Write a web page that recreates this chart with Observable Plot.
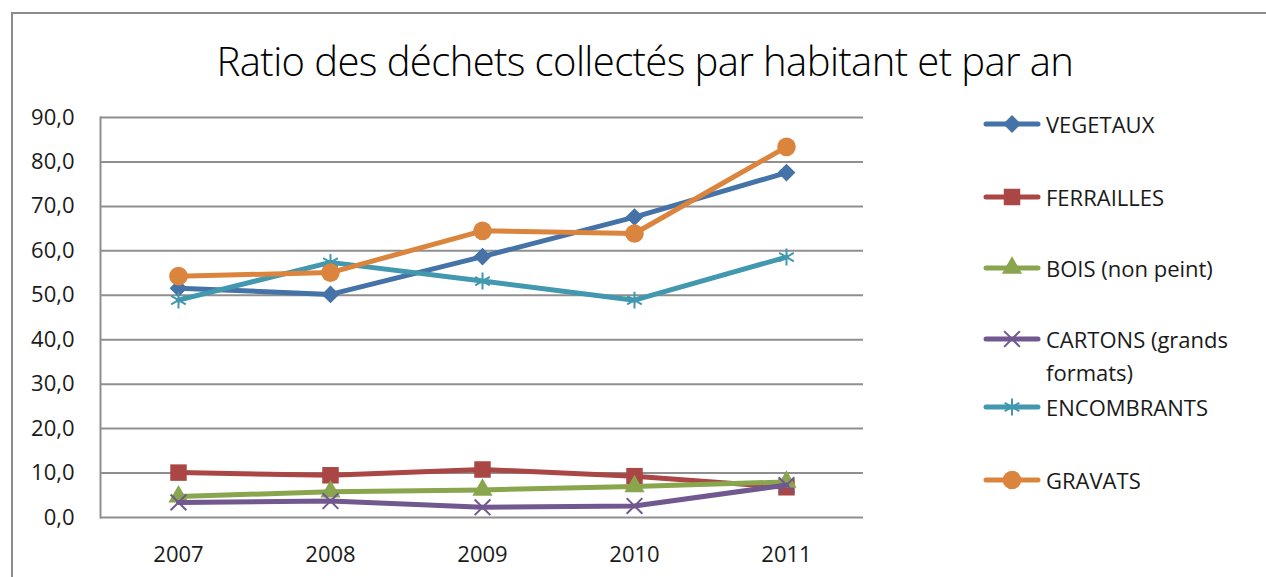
<!DOCTYPE html>
<html><head><meta charset="utf-8">
<script src="https://cdn.jsdelivr.net/npm/d3@7"></script>
<script src="https://cdn.jsdelivr.net/npm/@observablehq/plot@0.6"></script>
<style>
body{margin:0;background:#fff;}
#wrap{position:relative;width:1266px;height:577px;overflow:hidden;font-family:"Open Sans","Liberation Sans",sans-serif;color:#000;}
#frame{position:absolute;left:11px;top:12px;width:1300px;height:620px;border:2px solid #8c8c8c;box-sizing:border-box;}
#title{position:absolute;left:0;width:1290px;top:33px;text-align:center;font-size:40px;font-weight:300;letter-spacing:-0.6px;white-space:nowrap;}
#chart{position:absolute;left:0;top:0;}
.leg{position:absolute;left:983px;display:flex;align-items:flex-start;}
.leg svg{flex:none;}
.leg span{font-size:22px;line-height:33px;width:215px;margin-left:5px;color:#1a1a1a;}
</style></head>
<body><div id="wrap"><div id="frame"></div><div id="title">Ratio des déchets collectés par habitant et par an</div><div id="chart"></div></div>
<script>
const years = ["2007","2008","2009","2010","2011"];
const seriesNames = ["VEGETAUX","FERRAILLES","BOIS (non peint)","CARTONS (grands formats)","ENCOMBRANTS","GRAVATS"];
const vegetaux    = [51.6, 50.2, 58.7, 67.6, 77.6];
const ferrailles  = [10.1, 9.5, 10.8, 9.3, 6.8];
const bois        = [4.7, 5.8, 6.2, 7.0, 8.0];
const cartons     = [3.4, 3.7, 2.3, 2.6, 7.3];
const encombrants = [48.9, 57.4, 53.2, 48.9, 58.6];
const gravats     = [54.3, 55.1, 64.5, 63.9, 83.4];
const yTicks = [0, 10, 20, 30, 40, 50, 60, 70, 80, 90];

const seriesValues = [vegetaux, ferrailles, bois, cartons, encombrants, gravats];
const colors  = ["#4572A7","#AA4643","#89A54E","#71588F","#4198AF","#DB843D"];
const symbols = ["diamond2","square","triangle","times","asterisk","circle"];
const d3syms  = [d3.symbolDiamond2, d3.symbolSquare, d3.symbolTriangle, d3.symbolTimes, d3.symbolAsterisk, d3.symbolCircle];
const radii   = [8, 9.3, 7.5, 7.2, 8, 9.3];
const filled  = [true, true, true, false, false, true];

const rows = seriesNames.flatMap((s, i) => years.map((yr, j) => ({series: s, year: yr, value: seriesValues[i][j]})));
const fmt = d => d3.format(".1f")(d).replace(".", ",");

const seriesMarks = seriesNames.flatMap((s, i) => {
  const data = rows.filter(r => r.series === s);
  return [
    Plot.line(data, {x: "year", y: "value", stroke: colors[i], strokeWidth: 5, strokeLinejoin: "round", strokeLinecap: "round"}),
    Plot.dot(data, {x: "year", y: "value", symbol: symbols[i], r: radii[i],
      fill: filled[i] ? colors[i] : "none", stroke: filled[i] ? "none" : colors[i], strokeWidth: filled[i] ? 0 : 2})
  ];
});

const chart = Plot.plot({
  width: 1266, height: 577,
  marginLeft: 100, marginRight: 403, marginTop: 117, marginBottom: 60,
  style: {fontFamily: '"Open Sans","Liberation Sans",sans-serif', fontSize: "22px", color: "#1a1a1a", background: "transparent", overflow: "visible"},
  x: {type: "point", domain: years, padding: 0.5, label: null},
  y: {domain: [0, 90], label: null},
  marks: [
    Plot.gridY(yTicks, {stroke: "#8f8f8f", strokeOpacity: 1, strokeWidth: 2}),
    Plot.frame({anchor: "left", stroke: "#8f8f8f", strokeWidth: 2}),
    Plot.axisY(yTicks, {tickSize: 0, tickPadding: 26, tickFormat: fmt, label: null, fontSize: 22}),
    Plot.axisX({tickSize: 0, tickPadding: 29, label: null, fontSize: 22}),
    ...seriesMarks
  ]
});
document.getElementById("chart").appendChild(chart);

// Legend
const legendCenters = [124, 197, 268, 339, 407, 480];
const wrap = document.getElementById("wrap");
seriesNames.forEach((s, i) => {
  const div = document.createElement("div");
  div.className = "leg";
  div.style.top = (legendCenters[i] - 16) + "px";
  const svg = d3.create("svg").attr("width", 58).attr("height", 32);
  svg.append("line").attr("x1", 3).attr("x2", 55).attr("y1", 16).attr("y2", 16)
    .attr("stroke", colors[i]).attr("stroke-width", 5).attr("stroke-linecap", "round");
  const sym = d3.symbol(d3syms[i], Math.PI * radii[i] * radii[i]);
  svg.append("path").attr("d", sym()).attr("transform", "translate(29,16)")
    .attr("fill", filled[i] ? colors[i] : "none").attr("stroke", filled[i] ? "none" : colors[i]).attr("stroke-width", 2);
  div.appendChild(svg.node());
  const span = document.createElement("span");
  span.textContent = s;
  div.appendChild(span);
  wrap.appendChild(div);
});
</script>
</body></html>
